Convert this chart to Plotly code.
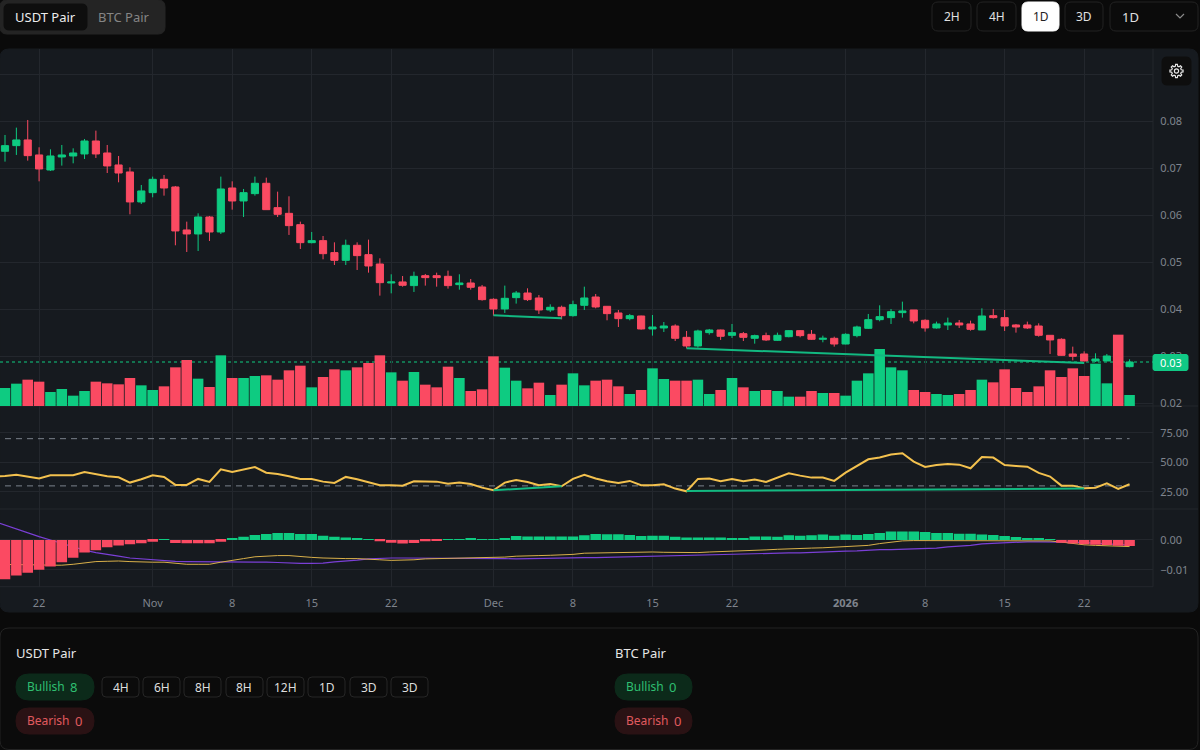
"""Daily candles with volume, RSI and MACD panes, inside the pair screener panel."""

import numpy as np
import pandas as pd
import plotly.graph_objects as go

dates = pd.date_range("2025-10-19", periods=100, freq="D")
# the indicator lines run on from one day before the first visible candle
line_dates = pd.date_range("2025-10-18", periods=101, freq="D")

opens = [
    .07362, .07482, .07603, .07284, .06964, .07241, .07262, .07305, .07581, .07326,
    .07071, .06922, .06284, .06482, .06766, .06603, .05688, .05603, .05964, .05645,
    .06581, .06305, .06461, .06681, .06163, .06042, .05801, .05418, .05461, .05206,
    .05042, .05362, .05163, .04964, .0456, .04582, .04504, .04716, .04716, .04702,
    .04525, .0456, .04475, .04213, .04007, .04248, .04347, .04241, .03986, .04043,
    .03865, .04085, .04262, .04064, .03922, .03801, .03858, .03582, .03603, .03645,
    .03404, .0322, .03504, .0356, .03447, .03482, .03383, .0344, .0334, .03418,
    .03546, .03468, .03362, .03383, .03262, .0344, .03596, .0378, .03823, .03929,
    .03986, .03766, .03603, .03667, .03709, .03688, .0356, .03865, .03823, .03667,
    .03667, .03645, .03447, .03362, .0305, .0305, .02901, .02901, .03007, .0278,
]
closes = [
    .07482, .07603, .07269, .06986, .07262, .07284, .07326, .07581, .07305, .0705,
    .069, .06284, .06518, .06766, .06581, .05667, .05603, .05964, .05645, .0656,
    .06305, .06482, .06681, .0612, .06021, .0578, .05418, .05461, .05184, .05042,
    .05362, .05142, .04922, .04567, .04582, .04511, .04702, .04674, .04674, .04504,
    .0456, .04468, .04206, .04007, .04234, .04347, .04206, .03986, .04043, .03865,
    .04099, .04241, .0405, .03908, .03801, .03865, .03582, .03624, .03645, .03383,
    .0322, .03539, .0356, .03426, .03504, .03404, .0344, .03348, .03447, .03546,
    .0344, .03362, .03383, .03262, .03468, .03624, .0378, .03844, .0395, .03965,
    .03752, .03603, .03688, .03709, .03667, .03574, .03858, .03823, .03645, .03624,
    .03603, .03447, .03348, .03021, .03, .02901, .02943, .03007, .0278, .02879,
]
highs = [
    .07709, .07865, .08028, .07447, .07404, .07496, .07425, .07624, .07801, .07496,
    .07262, .07021, .06645, .06823, .06858, .06624, .05865, .06042, .05986, .06823,
    .06723, .0656, .06823, .06801, .06503, .06404, .05865, .05645, .0556, .05425,
    .05482, .05425, .05482, .05085, .04745, .04709, .04801, .04752, .0478, .04823,
    .04745, .04645, .04518, .04234, .04504, .0439, .04447, .04305, .04106, .04078,
    .04184, .04482, .04326, .04071, .03986, .03901, .03865, .03879, .0373, .03681,
    .03539, .03567, .03582, .03567, .03688, .03518, .03461, .03504, .03504, .0356,
    .0356, .0356, .0344, .03418, .03489, .03652, .03901, .04085, .04007, .04163,
    .03986, .03787, .03738, .03823, .03773, .03759, .04021, .04007, .03986, .03688,
    .03738, .03702, .03447, .03383, .03206, .03106, .03064, .0305, .03021, .02936,
]
lows = [
    .07142, .07284, .07163, .06723, .06943, .07057, .07106, .07198, .0722, .069,
    .06702, .06021, .06241, .06383, .06418, .05362, .0522, .05241, .05454, .05603,
    .0612, .05964, .06418, .0612, .05964, .05582, .05284, .05404, .05064, .04943,
    .04943, .04837, .0478, .04291, .0434, .04482, .04369, .04504, .04482, .0444,
    .04418, .04418, .04184, .03865, .03922, .04121, .04177, .03901, .03943, .03787,
    .03844, .03986, .04021, .03766, .03624, .03766, .03567, .0344, .03518, .03326,
    .0317, .03184, .03461, .03348, .0339, .03326, .03269, .03326, .03326, .03404,
    .03404, .03348, .03298, .03206, .03255, .03404, .03582, .03745, .03688, .03823,
    .03702, .03525, .03589, .0356, .03603, .03546, .0356, .03801, .03539, .03504,
    .03582, .03418, .0305, .03014, .02915, .02894, .02879, .02901, .02745, .02766,
]
volumes = [
    54, 67, 79, 73, 42, 51, 31, 45, 73, 68, 65, 84, 62, 48, 59, 116, 138, 82, 57, 152,
    84, 84, 90, 92, 79, 107, 121, 56, 87, 110, 107, 116, 129, 152, 101, 76, 102, 64, 56, 118,
    84, 45, 50, 149, 115, 76, 53, 70, 33, 64, 98, 62, 76, 79, 59, 36, 48, 113, 81, 76,
    76, 79, 36, 48, 84, 56, 45, 48, 45, 28, 28, 45, 39, 39, 31, 76, 98, 171, 116, 107,
    48, 42, 36, 33, 36, 48, 79, 71, 110, 54, 42, 59, 107, 87, 113, 90, 127, 68, 214, 33,
]
rsi = [
    38.0,
    38.4, 39.5, 37.9, 36.2, 39.0, 39.0, 39.0, 41.8, 39.8, 38.1,
    37.3, 32.8, 35.6, 39.0, 37.6, 30.8, 30.8, 35.9, 33.3, 44.1,
    41.8, 43.8, 46.0, 41.2, 40.1, 38.1, 35.9, 35.9, 33.6, 32.5,
    37.6, 35.6, 33.3, 30.5, 30.5, 30.2, 33.9, 33.9, 33.6, 31.9,
    32.8, 31.6, 28.5, 26.3, 32.8, 35.0, 33.3, 30.5, 31.6, 29.7,
    35.9, 39.3, 36.2, 33.9, 32.5, 34.2, 30.5, 30.5, 31.4, 27.7,
    25.4, 35.9, 36.2, 33.9, 35.9, 33.9, 35.3, 33.3, 37.0, 40.7,
    38.7, 37.0, 37.0, 34.2, 41.2, 47.2, 52.5, 54.0, 56.5, 57.6,
    50.6, 46.0, 47.7, 48.6, 48.0, 44.9, 54.5, 54.0, 47.7, 46.9,
    46.3, 41.0, 37.9, 30.2, 30.2, 28.0, 28.5, 32.2, 27.4, 31.4,
]
macd_line = [
    -.0081,
    -.0081, -.0081, -.0082, -.0083, -.0084, -.0084, -.0081, -.0077, -.0072, -.0071,
    -.0070, -.0072, -.0074, -.0074, -.0074, -.0078, -.0081, -.0081, -.0081, -.0074,
    -.0069, -.0062, -.0056, -.0053, -.0052, -.0052, -.0056, -.0058, -.0060, -.0062,
    -.0062, -.0062, -.0063, -.0066, -.0068, -.0068, -.0066, -.0063, -.0062, -.0061,
    -.0060, -.0059, -.0059, -.0059, -.0057, -.0054, -.0052, -.0052, -.0051, -.0050,
    -.0048, -.0044, -.0043, -.0042, -.0041, -.0040, -.0040, -.0040, -.0041, -.0042,
    -.0043, -.0042, -.0040, -.0039, -.0037, -.0036, -.0034, -.0033, -.0031, -.0029,
    -.0028, -.0027, -.0026, -.0024, -.0023, -.0021, -.0018, -.0012, -.0007, -.0003,
    -.0002, -.0002, -.0002, -.0002, -.0002, -.0002, -.0002, -.0002, -.0002, -.0002,
    -.0002, -.0002, -.0003, -.0007, -.0012, -.0016, -.0018, -.0019, -.0021, -.0022,
]
signal_line = [
    .0063,
    .0050, .0037, .0023, .0011, .0000, -.0012, -.0023, -.0034, -.0042, -.0049,
    -.0054, -.0060, -.0063, -.0067, -.0069, -.0071, -.0072, -.0072, -.0072, -.0072,
    -.0072, -.0072, -.0073, -.0074, -.0075, -.0077, -.0078, -.0078, -.0077, -.0073,
    -.0071, -.0067, -.0063, -.0061, -.0060, -.0060, -.0060, -.0060, -.0060, -.0060,
    -.0060, -.0060, -.0061, -.0061, -.0062, -.0063, -.0062, -.0062, -.0061, -.0060,
    -.0059, -.0059, -.0059, -.0058, -.0057, -.0056, -.0054, -.0053, -.0052, -.0051,
    -.0051, -.0050, -.0049, -.0048, -.0046, -.0046, -.0044, -.0044, -.0043, -.0043,
    -.0043, -.0041, -.0040, -.0039, -.0037, -.0036, -.0033, -.0032, -.0032, -.0031,
    -.0030, -.0029, -.0027, -.0023, -.0021, -.0018, -.0013, -.0011, -.0008, -.0007,
    -.0006, -.0006, -.0006, -.0006, -.0007, -.0009, -.0011, -.0013, -.0016, -.0017,
]
macd_hist = [
    -.0131, -.0118, -.0109, -.0099, -.0088, -.0074, -.0059, -.0042, -.0034, -.0024,
    -.0018, -.0014, -.0011, -.0006, .0003, -.0010, -.0011, -.0011, -.0011, -.0006,
    .0004, .0011, .0017, .0020, .0023, .0023, .0020, .0020, .0014, .0011,
    .0008, .0004, .0002, -.0004, -.0009, -.0012, -.0010, -.0004, -.0003, .0002,
    .0002, .0004, .0003, .0003, .0007, .0013, .0012, .0012, .0012, .0012,
    .0012, .0016, .0020, .0019, .0019, .0017, .0013, .0014, .0014, .0011,
    .0008, .0008, .0008, .0008, .0007, .0007, .0012, .0012, .0011, .0016,
    .0014, .0016, .0018, .0014, .0018, .0017, .0020, .0023, .0028, .0028,
    .0028, .0027, .0023, .0023, .0021, .0021, .0018, .0017, .0013, .0010,
    .0007, .0004, .0001, -.0009, -.0012, -.0014, -.0016, -.0017, -.0019, -.0020,
]

price_ticks = [0.02, 0.03, 0.04, 0.05, 0.06, 0.07, 0.08, 0.09]
price_labels = ["0.02", "0.03", "0.04", "0.05", "0.06", "0.07", "0.08", ""]
rsi_ticks = [25, 50, 75]
macd_ticks = [-0.01, 0]
date_ticks = ["2025-10-22", "2025-11-01", "2025-11-08", "2025-11-15", "2025-11-22", "2025-12-01",
              "2025-12-08", "2025-12-15", "2025-12-22", "2026-01-01", "2026-01-08", "2026-01-15", "2026-01-22"]
date_labels = ["22", "Nov", "8", "15", "22", "Dec", "8", "15", "22", "<b>2026</b>", "8", "15", "22"]

last_price = 0.02879
price_div_a = (["2025-12-01", "2025-12-07"], [0.03872, 0.03809])
price_div_b = (["2025-12-18", "2026-01-22"], [0.0317, 0.02857])
rsi_div_a = (["2025-12-01", "2025-12-07"], [26.3, 29.7])
rsi_div_b = (["2025-12-18", "2026-01-22"], [25.7, 27.7])

assert all(len(s) == 100 for s in (opens, closes, highs, lows, volumes, macd_hist))
assert all(len(s) == 101 for s in (rsi, macd_line, signal_line))

GREEN = "#0ecb81"
RED = "#fb4a62"
DIV_GREEN = "#12b981"
GRID = "#23272d"
TICK = "#7f848d"
FONT = "Noto Sans"
PLOT_RIGHT = 1153


def px(x):
    return x / 1200


def py(y):
    return 1 - y / 750


def round_rect(x0, y0, x1, y1, r, fill, line=None):
    """Rounded box given in screen pixels."""
    path = (
        f"M {px(x0 + r)} {py(y0)} L {px(x1 - r)} {py(y0)} Q {px(x1)} {py(y0)} {px(x1)} {py(y0 + r)} "
        f"L {px(x1)} {py(y1 - r)} Q {px(x1)} {py(y1)} {px(x1 - r)} {py(y1)} "
        f"L {px(x0 + r)} {py(y1)} Q {px(x0)} {py(y1)} {px(x0)} {py(y1 - r)} "
        f"L {px(x0)} {py(y0 + r)} Q {px(x0)} {py(y0)} {px(x0 + r)} {py(y0)} Z"
    )
    return dict(type="path", xref="paper", yref="paper", path=path, fillcolor=fill, layer="below",
                line=dict(color=line or fill, width=1))


def rule(x0, y0, x1, y1, color=GRID, layer="below", width=1):
    return dict(type="line", xref="paper", yref="paper", x0=px(x0), y0=py(y0), x1=px(x1), y1=py(y1),
                layer=layer, line=dict(color=color, width=width))


def label(x, y, text, size=12, color="#e0e0e0", anchor="center"):
    # annotations carry about 2px of padding on the anchored side
    x = x - 2 if anchor == "left" else x
    return dict(xref="paper", yref="paper", x=px(x), y=py(y), text=text, showarrow=False, xanchor=anchor,
                yanchor="middle", font=dict(family=FONT, size=size, color=color))


def gear_path(cx, cy, outer, inner, teeth=8):
    points = []
    for i in range(teeth):
        a = 2 * np.pi * i / teeth
        step = 2 * np.pi / teeth
        for off, r in ((-0.32, inner), (-0.17, outer), (0.17, outer), (0.32, inner)):
            t = a + off * step
            points.append((cx + r * np.cos(t), cy + r * np.sin(t)))
    coords = " L ".join(f"{px(x)} {py(y)}" for x, y in points)
    return f"M {coords} Z"


colors = [GREEN if c >= o else RED for o, c in zip(opens, closes)]
hist_colors = [GREEN if v >= 0 else RED for v in macd_hist]

fig = go.Figure()

# volume sits on the base axis so the candles draw over it
fig.add_trace(go.Bar(x=dates, y=volumes, marker=dict(color=colors, line_width=0), xaxis="x", yaxis="y"))
fig.add_trace(go.Candlestick(
    x=dates, open=opens, high=highs, low=lows, close=closes, xaxis="x", yaxis="y2", whiskerwidth=0,
    increasing=dict(line=dict(color=GREEN, width=1), fillcolor=GREEN),
    decreasing=dict(line=dict(color=RED, width=1), fillcolor=RED),
))
for xs, ys in (price_div_a, price_div_b):
    fig.add_trace(go.Scatter(x=xs, y=ys, mode="lines", line=dict(color=DIV_GREEN, width=2), xaxis="x", yaxis="y2"))

# RSI pane
for level in (70, 30):
    fig.add_trace(go.Scatter(x=[dates[0], dates[-1]], y=[level, level], mode="lines", xaxis="x", yaxis="y3",
                             line=dict(color="#7b828c", width=1, dash="6px,5px")))
fig.add_trace(go.Scatter(x=line_dates, y=rsi, mode="lines", line=dict(color="#f3c14e", width=2), xaxis="x", yaxis="y3"))
for xs, ys in (rsi_div_a, rsi_div_b):
    fig.add_trace(go.Scatter(x=xs, y=ys, mode="lines", line=dict(color=DIV_GREEN, width=2), xaxis="x", yaxis="y3"))

# MACD pane, the histogram covers the lines
fig.add_trace(go.Scatter(x=line_dates, y=signal_line, mode="lines", line=dict(color="#7a3fd6", width=1.2), xaxis="x", yaxis="y4"))
fig.add_trace(go.Scatter(x=line_dates, y=macd_line, mode="lines", line=dict(color="#d9b04a", width=1), xaxis="x", yaxis="y4"))
fig.add_trace(go.Bar(x=dates, y=macd_hist, marker=dict(color=hist_colors, line_width=0), xaxis="x", yaxis="y5"))

shapes = [
    round_rect(0, 49, 1198, 612, 9, "#161a1f"),
    rule(0, 406, 1198, 406),
    rule(0, 509, 1198, 509),
    rule(0, 586.7, PLOT_RIGHT, 586.7),
    rule(PLOT_RIGHT, 49, PLOT_RIGHT, 586.7),
    # header controls
    round_rect(0, 0, 165, 34, 7, "#242424"),
    round_rect(4, 4, 87, 30, 5, "#0e0e0e"),
    round_rect(932, 2, 971, 31, 6, "#0b0b0b", "#232323"),
    round_rect(977, 2, 1016, 31, 6, "#0b0b0b", "#232323"),
    round_rect(1022, 2, 1059, 31, 6, "#ffffff"),
    round_rect(1065, 2, 1103, 31, 6, "#0b0b0b", "#232323"),
    round_rect(1110, 2, 1198, 31, 6, "#0b0b0b", "#232323"),
    dict(type="path", xref="paper", yref="paper",
         path=f"M {px(1176)} {py(14)} L {px(1180)} {py(18)} L {px(1184)} {py(14)}",
         line=dict(color="#8a8a8a", width=1.2)),
    # footer panel
    round_rect(0, 628, 1198, 749.5, 9, "#0b0b0b", "#232323"),
    round_rect(16, 674, 94, 700, 13, "#0c2a1a"),
    round_rect(16, 708, 94, 734, 13, "#2a1214"),
    round_rect(615, 674, 692, 700, 13, "#0c2a1a"),
    round_rect(615, 708, 692, 734, 13, "#2a1214"),
    # last price line stays under the bars
    dict(type="line", xref="paper", yref="y2", x0=0, x1=px(PLOT_RIGHT), y0=last_price, y1=last_price,
         layer="below", line=dict(color=GREEN, width=1, dash="dot")),
]
chip_edges = [(102, 139), (143, 180), (184, 221), (226, 263), (267, 304), (308, 345), (350, 387), (391, 428)]
chip_names = ["4H", "6H", "8H", "8H", "12H", "1D", "3D", "3D"]
for (x0, x1) in chip_edges:
    shapes.append(round_rect(x0, 677, x1, 697, 4, "#0b0b0b", "#262626"))

# gear button and last price tag go above the axis labels
shapes.append({**round_rect(1162, 57, 1191, 85, 5, "#0e0e0e"), "layer": "above"})
shapes.append(dict(type="path", xref="paper", yref="paper", path=gear_path(1176.5, 71, 6.6, 4.9), layer="above",
                   line=dict(color="#e8e8e8", width=1.2)))
shapes.append(dict(type="circle", xref="paper", yref="paper", x0=px(1174.4), x1=px(1178.6), y0=py(73.1), y1=py(68.9),
                   layer="above", line=dict(color="#e8e8e8", width=1.2)))
shapes.append({**round_rect(1153, 354.5, 1188, 370.5, 2, "#10c985"), "layer": "above"})

annotations = [
    label(45, 17, "USDT Pair", 13, "#ececec"),
    label(124, 17, "BTC Pair", 13, "#858585"),
    label(951.5, 16.5, "2H", 12, "#e0e0e0"),
    label(996.5, 16.5, "4H", 12, "#e0e0e0"),
    label(1040.5, 16.5, "1D", 12, "#222222"),
    label(1084, 16.5, "3D", 12, "#e0e0e0"),
    label(1122, 16.5, "1D", 13, "#e0e0e0", "left"),
    label(1170.5, 362.5, "0.03", 11, "#ffffff"),
    label(16, 653, "USDT Pair", 13, "#e6e6e6", "left"),
    label(615, 653, "BTC Pair", 13, "#e6e6e6", "left"),
    label(27, 686.5, "Bullish", 12, "#2fbf71", "left"),
    label(70, 686.5, "8", 13, "#2fbf71", "left"),
    label(27, 720.5, "Bearish", 12, "#e05a5f", "left"),
    label(75, 720.5, "0", 13, "#e05a5f", "left"),
    label(626, 686.5, "Bullish", 12, "#2fbf71", "left"),
    label(669, 686.5, "0", 13, "#2fbf71", "left"),
    label(626, 720.5, "Bearish", 12, "#e05a5f", "left"),
    label(674, 720.5, "0", 13, "#e05a5f", "left"),
]
for (x0, x1), name in zip(chip_edges, chip_names):
    annotations.append(label((x0 + x1) / 2, 687, name, 12, "#dddddd"))

right_axis = dict(side="right", anchor="x", showgrid=True, gridcolor=GRID, gridwidth=1, zeroline=False, showline=False,
                  ticks="outside", ticklen=4, tickcolor="rgba(0,0,0,0)", tickfont=dict(family=FONT, size=11, color=TICK))

fig.update_layout(
    width=1200,
    height=750,
    margin=dict(l=0, r=0, t=0, b=0, pad=0, autoexpand=False),
    paper_bgcolor="#0a0a0a",
    plot_bgcolor="rgba(0,0,0,0)",
    showlegend=False,
    hovermode=False,
    bargap=0.07,
    boxgap=0.1,
    font=dict(family=FONT),
    shapes=shapes,
    annotations=annotations,
    xaxis=dict(domain=[0, px(PLOT_RIGHT)], anchor="y4", range=["2025-10-18 13:26", "2026-01-28 01:30"], type="date",
               rangeslider=dict(visible=False), tickmode="array", tickvals=date_ticks, ticktext=date_labels,
               showgrid=True, gridcolor=GRID, zeroline=False, showline=False, ticks="outside", ticklen=6,
               tickcolor="rgba(0,0,0,0)", tickfont=dict(family=FONT, size=11, color=TICK)),
    yaxis=dict(domain=[py(406), py(49)], range=[0, 1071], visible=False, anchor="x"),
    yaxis2=dict(overlaying="y", range=[0.01943, 0.09538], tickmode="array", tickvals=price_ticks,
                ticktext=price_labels, **right_axis),
    yaxis3=dict(domain=[py(509), py(406)], range=[10.4, 97.7], tickmode="array", tickvals=rsi_ticks,
                tickformat=".2f", **right_axis),
    yaxis4=dict(domain=[py(586.7), py(509)], range=[-0.01557, 0.01033], tickmode="array", tickvals=macd_ticks,
                tickformat=".2f", **right_axis),
    yaxis5=dict(overlaying="y4", range=[-0.01557, 0.01033], visible=False, anchor="x"),
)

fig.write_html("out.html", config=dict(displayModeBar=False),
               post_script="document.body.style.margin='0';document.body.style.background='#0a0a0a';"
                           "document.body.style.overflow='hidden';")
